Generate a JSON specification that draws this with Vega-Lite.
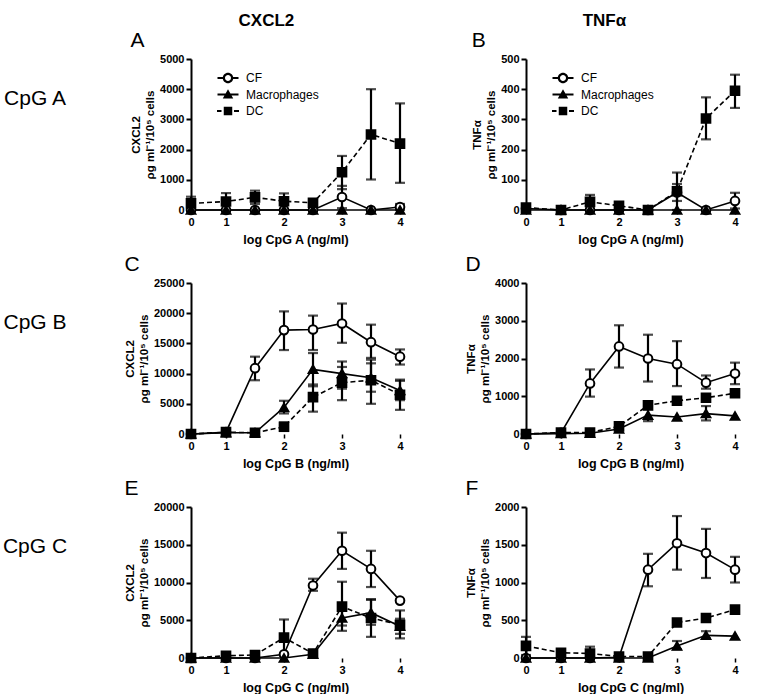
{
  "$schema": "https://vega.github.io/schema/vega-lite/v6.json",
  "padding": {"left": 2, "top": 12, "right": 5, "bottom": 0},
  "background": "white",
  "config": {
    "view": {"stroke": null},
    "font": "Liberation Sans",
    "axis": {"labelFont": "Liberation Sans", "titleFont": "Liberation Sans", "labelColor": "black", "titleColor": "black", "domainColor": "black", "tickColor": "black", "grid": false, "labelOverlap": false},
    "legend": {"labelFont": "Liberation Sans"},
    "title": {"font": "Liberation Sans", "color": "black"}
  },
  "datasets": {
    "axisseg": [{"a": 0, "b": 0.66}, {"a": 0.9, "b": 4}],
    "axiscap": [{"a": 0.66}],
    "obs": [
      {"p":"A","c":"CF","x":0,"v":0},{"p":"A","c":"CF","x":1,"v":0},{"p":"A","c":"CF","x":1.5,"v":0},{"p":"A","c":"CF","x":2,"v":0},{"p":"A","c":"CF","x":2.5,"v":0},{"p":"A","c":"CF","x":3,"v":430,"lo":60,"hi":800},{"p":"A","c":"CF","x":3.5,"v":0},{"p":"A","c":"CF","x":4,"v":100,"lo":0,"hi":200},
      {"p":"A","c":"Macrophages","x":0,"v":0},{"p":"A","c":"Macrophages","x":1,"v":0},{"p":"A","c":"Macrophages","x":1.5,"v":0},{"p":"A","c":"Macrophages","x":2,"v":0},{"p":"A","c":"Macrophages","x":2.5,"v":0},{"p":"A","c":"Macrophages","x":3,"v":0},{"p":"A","c":"Macrophages","x":3.5,"v":0},{"p":"A","c":"Macrophages","x":4,"v":0},
      {"p":"A","c":"DC","x":0,"v":220,"lo":0,"hi":440},{"p":"A","c":"DC","x":1,"v":280,"lo":0,"hi":560},{"p":"A","c":"DC","x":1.5,"v":420,"lo":200,"hi":640},{"p":"A","c":"DC","x":2,"v":290,"lo":30,"hi":550},{"p":"A","c":"DC","x":2.5,"v":240,"lo":180,"hi":300},{"p":"A","c":"DC","x":3,"v":1250,"lo":690,"hi":1790},{"p":"A","c":"DC","x":3.5,"v":2500,"lo":1010,"hi":4000},{"p":"A","c":"DC","x":4,"v":2200,"lo":900,"hi":3530},

      {"p":"B","c":"CF","x":0,"v":5},{"p":"B","c":"CF","x":1,"v":0},{"p":"B","c":"CF","x":1.5,"v":0},{"p":"B","c":"CF","x":2,"v":0},{"p":"B","c":"CF","x":2.5,"v":0},{"p":"B","c":"CF","x":3,"v":58,"lo":30,"hi":86},{"p":"B","c":"CF","x":3.5,"v":0},{"p":"B","c":"CF","x":4,"v":30,"lo":5,"hi":57},
      {"p":"B","c":"Macrophages","x":0,"v":0},{"p":"B","c":"Macrophages","x":1,"v":0},{"p":"B","c":"Macrophages","x":1.5,"v":0},{"p":"B","c":"Macrophages","x":2,"v":0},{"p":"B","c":"Macrophages","x":2.5,"v":0},{"p":"B","c":"Macrophages","x":3,"v":0},{"p":"B","c":"Macrophages","x":3.5,"v":0},{"p":"B","c":"Macrophages","x":4,"v":0},
      {"p":"B","c":"DC","x":0,"v":8},{"p":"B","c":"DC","x":1,"v":0},{"p":"B","c":"DC","x":1.5,"v":27,"lo":5,"hi":50},{"p":"B","c":"DC","x":2,"v":14,"lo":4,"hi":24},{"p":"B","c":"DC","x":2.5,"v":0},{"p":"B","c":"DC","x":3,"v":62,"lo":0,"hi":124},{"p":"B","c":"DC","x":3.5,"v":303,"lo":234,"hi":373},{"p":"B","c":"DC","x":4,"v":395,"lo":338,"hi":448},

      {"p":"C","c":"CF","x":0,"v":0},{"p":"C","c":"CF","x":1,"v":300},{"p":"C","c":"CF","x":1.5,"v":10900,"lo":8900,"hi":12800},{"p":"C","c":"CF","x":2,"v":17200,"lo":13900,"hi":20300},{"p":"C","c":"CF","x":2.5,"v":17300,"lo":13900,"hi":19600},{"p":"C","c":"CF","x":3,"v":18300,"lo":15100,"hi":21600},{"p":"C","c":"CF","x":3.5,"v":15200,"lo":12600,"hi":18100},{"p":"C","c":"CF","x":4,"v":12800,"lo":11500,"hi":14000},
      {"p":"C","c":"Macrophages","x":0,"v":0},{"p":"C","c":"Macrophages","x":1,"v":200},{"p":"C","c":"Macrophages","x":1.5,"v":200},{"p":"C","c":"Macrophages","x":2,"v":4400,"lo":3400,"hi":5500},{"p":"C","c":"Macrophages","x":2.5,"v":10700,"lo":7900,"hi":13400},{"p":"C","c":"Macrophages","x":3,"v":10000,"lo":7500,"hi":12000},{"p":"C","c":"Macrophages","x":3.5,"v":9300,"lo":7000,"hi":11700},{"p":"C","c":"Macrophages","x":4,"v":7200,"lo":5600,"hi":8800},
      {"p":"C","c":"DC","x":0,"v":0},{"p":"C","c":"DC","x":1,"v":300},{"p":"C","c":"DC","x":1.5,"v":200},{"p":"C","c":"DC","x":2,"v":1200,"lo":500,"hi":1900},{"p":"C","c":"DC","x":2.5,"v":6100,"lo":3700,"hi":8200},{"p":"C","c":"DC","x":3,"v":8500,"lo":5600,"hi":11100},{"p":"C","c":"DC","x":3.5,"v":8900,"lo":5000,"hi":12300},{"p":"C","c":"DC","x":4,"v":6500,"lo":4000,"hi":9000},

      {"p":"D","c":"CF","x":0,"v":0},{"p":"D","c":"CF","x":1,"v":30},{"p":"D","c":"CF","x":1.5,"v":1340,"lo":990,"hi":1710},{"p":"D","c":"CF","x":2,"v":2320,"lo":1760,"hi":2880},{"p":"D","c":"CF","x":2.5,"v":2000,"lo":1390,"hi":2630},{"p":"D","c":"CF","x":3,"v":1850,"lo":1270,"hi":2460},{"p":"D","c":"CF","x":3.5,"v":1360,"lo":1200,"hi":1550},{"p":"D","c":"CF","x":4,"v":1600,"lo":1320,"hi":1890},
      {"p":"D","c":"Macrophages","x":0,"v":0},{"p":"D","c":"Macrophages","x":1,"v":10},{"p":"D","c":"Macrophages","x":1.5,"v":20},{"p":"D","c":"Macrophages","x":2,"v":130},{"p":"D","c":"Macrophages","x":2.5,"v":500,"lo":340,"hi":660},{"p":"D","c":"Macrophages","x":3,"v":450},{"p":"D","c":"Macrophages","x":3.5,"v":540,"lo":360,"hi":740},{"p":"D","c":"Macrophages","x":4,"v":480},
      {"p":"D","c":"DC","x":0,"v":0},{"p":"D","c":"DC","x":1,"v":40},{"p":"D","c":"DC","x":1.5,"v":40},{"p":"D","c":"DC","x":2,"v":200},{"p":"D","c":"DC","x":2.5,"v":760,"lo":690,"hi":830},{"p":"D","c":"DC","x":3,"v":880},{"p":"D","c":"DC","x":3.5,"v":960},{"p":"D","c":"DC","x":4,"v":1080},

      {"p":"E","c":"CF","x":0,"v":0},{"p":"E","c":"CF","x":1,"v":0},{"p":"E","c":"CF","x":1.5,"v":0},{"p":"E","c":"CF","x":2,"v":500},{"p":"E","c":"CF","x":2.5,"v":9600,"lo":8900,"hi":10500},{"p":"E","c":"CF","x":3,"v":14200,"lo":11800,"hi":16600},{"p":"E","c":"CF","x":3.5,"v":11800,"lo":9400,"hi":14200},{"p":"E","c":"CF","x":4,"v":7600},
      {"p":"E","c":"Macrophages","x":0,"v":0},{"p":"E","c":"Macrophages","x":1,"v":0},{"p":"E","c":"Macrophages","x":1.5,"v":0},{"p":"E","c":"Macrophages","x":2,"v":0},{"p":"E","c":"Macrophages","x":2.5,"v":500},{"p":"E","c":"Macrophages","x":3,"v":5300,"lo":4300,"hi":6300},{"p":"E","c":"Macrophages","x":3.5,"v":6000,"lo":4400,"hi":7700},{"p":"E","c":"Macrophages","x":4,"v":4200,"lo":3200,"hi":5200},
      {"p":"E","c":"DC","x":0,"v":0},{"p":"E","c":"DC","x":1,"v":300},{"p":"E","c":"DC","x":1.5,"v":400},{"p":"E","c":"DC","x":2,"v":2700,"lo":300,"hi":5100},{"p":"E","c":"DC","x":2.5,"v":600,"lo":300,"hi":900},{"p":"E","c":"DC","x":3,"v":6800,"lo":3600,"hi":10100},{"p":"E","c":"DC","x":3.5,"v":5300,"lo":2800,"hi":7800},{"p":"E","c":"DC","x":4,"v":4400,"lo":2600,"hi":6300},

      {"p":"F","c":"CF","x":0,"v":0},{"p":"F","c":"CF","x":1,"v":0},{"p":"F","c":"CF","x":1.5,"v":0},{"p":"F","c":"CF","x":2,"v":10},{"p":"F","c":"CF","x":2.5,"v":1170,"lo":950,"hi":1380},{"p":"F","c":"CF","x":3,"v":1520,"lo":1170,"hi":1880},{"p":"F","c":"CF","x":3.5,"v":1390,"lo":1060,"hi":1710},{"p":"F","c":"CF","x":4,"v":1170,"lo":1000,"hi":1340},
      {"p":"F","c":"Macrophages","x":0,"v":0},{"p":"F","c":"Macrophages","x":1,"v":0},{"p":"F","c":"Macrophages","x":1.5,"v":0},{"p":"F","c":"Macrophages","x":2,"v":0},{"p":"F","c":"Macrophages","x":2.5,"v":0},{"p":"F","c":"Macrophages","x":3,"v":160,"lo":115,"hi":225},{"p":"F","c":"Macrophages","x":3.5,"v":300,"lo":260,"hi":355},{"p":"F","c":"Macrophages","x":4,"v":290},
      {"p":"F","c":"DC","x":0,"v":160,"lo":40,"hi":280},{"p":"F","c":"DC","x":1,"v":70},{"p":"F","c":"DC","x":1.5,"v":60,"lo":0,"hi":150},{"p":"F","c":"DC","x":2,"v":20},{"p":"F","c":"DC","x":2.5,"v":20},{"p":"F","c":"DC","x":3,"v":470,"lo":430,"hi":510},{"p":"F","c":"DC","x":3.5,"v":530},{"p":"F","c":"DC","x":4,"v":640}
    ]
  },
  "hconcat": [
    {
      "vconcat": [
        {"width": 60, "height": 80, "data": {"values": [{"t": "CpG A"}]}, "mark": {"type": "text", "font": "Liberation Sans", "fontSize": 21, "color": "black"}, "encoding": {"text": {"field": "t"}}},
        {"width": 60, "height": 80, "data": {"values": [{"t": "CpG B"}]}, "mark": {"type": "text", "font": "Liberation Sans", "fontSize": 21, "color": "black"}, "encoding": {"text": {"field": "t"}}},
        {"width": 60, "height": 80, "data": {"values": [{"t": "CpG C"}]}, "mark": {"type": "text", "font": "Liberation Sans", "fontSize": 21, "color": "black"}, "encoding": {"text": {"field": "t"}}}
      ],
      "spacing": 144,
      "bounds": "flush"
    },
    {
      "title": {"text": "CXCL2", "fontSize": 17, "fontWeight": "bold", "anchor": "middle", "frame": "bounds", "offset": 0},
      "spacing": 73,
      "bounds": "flush",
      "resolve": {"scale": {"x": "independent", "y": "independent", "shape": "independent"}},
      "vconcat": [
        {
          "width": 209, "height": 151,
          "title": {"text": "A", "fontSize": 21, "fontWeight": "normal", "anchor": "start", "frame": "bounds", "offset": 2},
          "data": {"name": "obs"},
          "transform": [{"filter": "datum.p === 'A'"}],
          "resolve": {"scale": {"shape": "independent"}},
          "encoding": {
            "x": {"field": "x", "type": "quantitative", "title": "log CpG A (ng/ml)", "scale": {"domain": [0, 1, 4], "range": [0, 35, 209], "nice": false, "zero": false}, "axis": {"values": [0, 1, 2, 3, 4], "format": "d", "domain": false, "tickSize": 4, "tickWidth": 1.5, "labelFontWeight": "bold", "labelFontSize": 11, "labelPadding": 2, "titleFontSize": 12.5, "titleFontWeight": "bold", "titlePadding": 6, "labelFlush": false}},
            "y": {"field": "v", "type": "quantitative", "title": ["CXCL2", "ρg ml⁻¹/10⁵ cells"], "scale": {"domain": [0, 5000], "nice": false}, "axis": {"values": [0, 1000, 2000, 3000, 4000, 5000], "format": "d", "domainWidth": 2, "tickSize": 5, "tickWidth": 2, "labelFontWeight": "bold", "labelFontSize": 11, "labelPadding": 2, "titleFontSize": 11.5, "titleFontWeight": "bold", "titlePadding": 4, "titleLineHeight": 14}}
          },
          "layer": [
            {"data": {"name": "axisseg"}, "transform": [], "mark": {"type": "rule", "strokeWidth": 2, "color": "black"}, "encoding": {"x": {"field": "a", "type": "quantitative", "title": "log CpG A (ng/ml)"}, "x2": {"field": "b"}, "y": {"datum": 0, "type": "quantitative", "title": ["CXCL2", "ρg ml⁻¹/10⁵ cells"]}}},
            {"data": {"name": "axiscap"}, "transform": [], "mark": {"type": "tick", "orient": "vertical", "size": 8, "thickness": 2, "color": "black"}, "encoding": {"x": {"field": "a", "type": "quantitative", "title": "log CpG A (ng/ml)"}, "y": {"datum": 0, "type": "quantitative", "title": ["CXCL2", "ρg ml⁻¹/10⁵ cells"]}}},
            {"transform": [{"filter": "isValid(datum.lo)"}], "mark": {"type": "rule", "strokeWidth": 2.2, "color": "black"}, "encoding": {"y": {"field": "lo", "type": "quantitative", "title": ["CXCL2", "ρg ml⁻¹/10⁵ cells"]}, "y2": {"field": "hi"}}},
            {"transform": [{"filter": "isValid(datum.lo)"}], "mark": {"type": "tick", "orient": "horizontal", "size": 10, "thickness": 2.2, "color": "black"}, "encoding": {"y": {"field": "lo", "type": "quantitative", "title": ["CXCL2", "ρg ml⁻¹/10⁵ cells"]}}},
            {"transform": [{"filter": "isValid(datum.hi)"}], "mark": {"type": "tick", "orient": "horizontal", "size": 10, "thickness": 2.2, "color": "black"}, "encoding": {"y": {"field": "hi", "type": "quantitative", "title": ["CXCL2", "ρg ml⁻¹/10⁵ cells"]}}},
            {"transform": [{"filter": "datum.c !== 'DC'"}], "mark": {"type": "line", "strokeWidth": 1.6, "color": "black"}, "encoding": {"detail": {"field": "c"}}},
            {"transform": [{"filter": "datum.c === 'DC'"}], "mark": {"type": "line", "strokeWidth": 1.6, "color": "black", "strokeDash": [5, 3]}, "encoding": {}},
            {"mark": {"type": "point", "filled": true, "stroke": "black", "strokeWidth": 2, "opacity": 1, "size": 75}, "encoding": {
              "shape": {"field": "c", "type": "nominal", "scale": {"domain": ["CF", "Macrophages", "DC"], "range": ["circle", "triangle-up", "square"]}, "legend": null},
              "fill": {"condition": {"test": "datum.c === 'CF'", "value": "white"}, "value": "black"}
            }},
            {"transform": [{"filter": "false"}], "mark": {"type": "point", "filled": true, "fill": "black", "strokeWidth": 0, "opacity": 1, "size": 100}, "encoding": {
              "shape": {"field": "c", "type": "nominal", "scale": {"domain": ["CF", "Macrophages", "DC"], "range": ["M-2.1,-0.2H-0.95V0.2H-2.1ZM0.95,-0.2H2.1V0.2H0.95ZM1.05,0A1.05,1.05 0 1,1 -1.05,0A1.05,1.05 0 1,1 1.05,0ZM0.6,0A0.6,0.6 0 1,0 -0.6,0A0.6,0.6 0 1,0 0.6,0Z", "M-2.1,-0.2H2.1V0.2H-2.1ZM0,-1.05L1.05,0.8L-1.05,0.8Z", "M-2.2,-0.2H-1.3V0.2H-2.2ZM1.2,-0.2H2.2V0.2H1.2ZM-0.85,-0.85H0.85V0.85H-0.85Z"]},
                "legend": {"title": null, "orient": "none", "legendX": 31, "legendY": 13, "padding": 0, "symbolSize": 100, "symbolStrokeWidth": 0, "symbolFillColor": "black", "labelFontSize": 12, "labelColor": "black", "labelOffset": 12, "rowPadding": 4.5}}
            }}
          ]
        },
        {
          "width": 209, "height": 151,
          "title": {"text": "C", "fontSize": 21, "fontWeight": "normal", "anchor": "start", "frame": "bounds", "offset": 2},
          "data": {"name": "obs"},
          "transform": [{"filter": "datum.p === 'C'"}],
          "encoding": {
            "x": {"field": "x", "type": "quantitative", "title": "log CpG B (ng/ml)", "scale": {"domain": [0, 1, 4], "range": [0, 35, 209], "nice": false, "zero": false}, "axis": {"values": [0, 1, 2, 3, 4], "format": "d", "domain": false, "tickSize": 4, "tickWidth": 1.5, "labelFontWeight": "bold", "labelFontSize": 11, "labelPadding": 2, "titleFontSize": 12.5, "titleFontWeight": "bold", "titlePadding": 6, "labelFlush": false}},
            "y": {"field": "v", "type": "quantitative", "title": ["CXCL2", "ρg ml⁻¹/10⁵ cells"], "scale": {"domain": [0, 25000], "nice": false}, "axis": {"values": [0, 5000, 10000, 15000, 20000, 25000], "format": "d", "domainWidth": 2, "tickSize": 5, "tickWidth": 2, "labelFontWeight": "bold", "labelFontSize": 11, "labelPadding": 2, "titleFontSize": 11.5, "titleFontWeight": "bold", "titlePadding": 4, "titleLineHeight": 14}}
          },
          "layer": [
            {"data": {"name": "axisseg"}, "transform": [], "mark": {"type": "rule", "strokeWidth": 2, "color": "black"}, "encoding": {"x": {"field": "a", "type": "quantitative", "title": "log CpG B (ng/ml)"}, "x2": {"field": "b"}, "y": {"datum": 0, "type": "quantitative", "title": ["CXCL2", "ρg ml⁻¹/10⁵ cells"]}}},
            {"data": {"name": "axiscap"}, "transform": [], "mark": {"type": "tick", "orient": "vertical", "size": 8, "thickness": 2, "color": "black"}, "encoding": {"x": {"field": "a", "type": "quantitative", "title": "log CpG B (ng/ml)"}, "y": {"datum": 0, "type": "quantitative", "title": ["CXCL2", "ρg ml⁻¹/10⁵ cells"]}}},
            {"transform": [{"filter": "isValid(datum.lo)"}], "mark": {"type": "rule", "strokeWidth": 2.2, "color": "black"}, "encoding": {"y": {"field": "lo", "type": "quantitative", "title": ["CXCL2", "ρg ml⁻¹/10⁵ cells"]}, "y2": {"field": "hi"}}},
            {"transform": [{"filter": "isValid(datum.lo)"}], "mark": {"type": "tick", "orient": "horizontal", "size": 10, "thickness": 2.2, "color": "black"}, "encoding": {"y": {"field": "lo", "type": "quantitative", "title": ["CXCL2", "ρg ml⁻¹/10⁵ cells"]}}},
            {"transform": [{"filter": "isValid(datum.hi)"}], "mark": {"type": "tick", "orient": "horizontal", "size": 10, "thickness": 2.2, "color": "black"}, "encoding": {"y": {"field": "hi", "type": "quantitative", "title": ["CXCL2", "ρg ml⁻¹/10⁵ cells"]}}},
            {"transform": [{"filter": "datum.c !== 'DC'"}], "mark": {"type": "line", "strokeWidth": 1.6, "color": "black"}, "encoding": {"detail": {"field": "c"}}},
            {"transform": [{"filter": "datum.c === 'DC'"}], "mark": {"type": "line", "strokeWidth": 1.6, "color": "black", "strokeDash": [5, 3]}, "encoding": {}},
            {"mark": {"type": "point", "filled": true, "stroke": "black", "strokeWidth": 2, "opacity": 1, "size": 75}, "encoding": {
              "shape": {"field": "c", "type": "nominal", "scale": {"domain": ["CF", "Macrophages", "DC"], "range": ["circle", "triangle-up", "square"]}, "legend": null},
              "fill": {"condition": {"test": "datum.c === 'CF'", "value": "white"}, "value": "black"}
            }}
          ]
        },
        {
          "width": 209, "height": 151,
          "title": {"text": "E", "fontSize": 21, "fontWeight": "normal", "anchor": "start", "frame": "bounds", "offset": 2},
          "data": {"name": "obs"},
          "transform": [{"filter": "datum.p === 'E'"}],
          "encoding": {
            "x": {"field": "x", "type": "quantitative", "title": "log CpG C (ng/ml)", "scale": {"domain": [0, 1, 4], "range": [0, 35, 209], "nice": false, "zero": false}, "axis": {"values": [0, 1, 2, 3, 4], "format": "d", "domain": false, "tickSize": 4, "tickWidth": 1.5, "labelFontWeight": "bold", "labelFontSize": 11, "labelPadding": 2, "titleFontSize": 12.5, "titleFontWeight": "bold", "titlePadding": 6, "labelFlush": false}},
            "y": {"field": "v", "type": "quantitative", "title": ["CXCL2", "ρg ml⁻¹/10⁵ cells"], "scale": {"domain": [0, 20000], "nice": false}, "axis": {"values": [0, 5000, 10000, 15000, 20000], "format": "d", "domainWidth": 2, "tickSize": 5, "tickWidth": 2, "labelFontWeight": "bold", "labelFontSize": 11, "labelPadding": 2, "titleFontSize": 11.5, "titleFontWeight": "bold", "titlePadding": 4, "titleLineHeight": 14}}
          },
          "layer": [
            {"data": {"name": "axisseg"}, "transform": [], "mark": {"type": "rule", "strokeWidth": 2, "color": "black"}, "encoding": {"x": {"field": "a", "type": "quantitative", "title": "log CpG C (ng/ml)"}, "x2": {"field": "b"}, "y": {"datum": 0, "type": "quantitative", "title": ["CXCL2", "ρg ml⁻¹/10⁵ cells"]}}},
            {"data": {"name": "axiscap"}, "transform": [], "mark": {"type": "tick", "orient": "vertical", "size": 8, "thickness": 2, "color": "black"}, "encoding": {"x": {"field": "a", "type": "quantitative", "title": "log CpG C (ng/ml)"}, "y": {"datum": 0, "type": "quantitative", "title": ["CXCL2", "ρg ml⁻¹/10⁵ cells"]}}},
            {"transform": [{"filter": "isValid(datum.lo)"}], "mark": {"type": "rule", "strokeWidth": 2.2, "color": "black"}, "encoding": {"y": {"field": "lo", "type": "quantitative", "title": ["CXCL2", "ρg ml⁻¹/10⁵ cells"]}, "y2": {"field": "hi"}}},
            {"transform": [{"filter": "isValid(datum.lo)"}], "mark": {"type": "tick", "orient": "horizontal", "size": 10, "thickness": 2.2, "color": "black"}, "encoding": {"y": {"field": "lo", "type": "quantitative", "title": ["CXCL2", "ρg ml⁻¹/10⁵ cells"]}}},
            {"transform": [{"filter": "isValid(datum.hi)"}], "mark": {"type": "tick", "orient": "horizontal", "size": 10, "thickness": 2.2, "color": "black"}, "encoding": {"y": {"field": "hi", "type": "quantitative", "title": ["CXCL2", "ρg ml⁻¹/10⁵ cells"]}}},
            {"transform": [{"filter": "datum.c !== 'DC'"}], "mark": {"type": "line", "strokeWidth": 1.6, "color": "black"}, "encoding": {"detail": {"field": "c"}}},
            {"transform": [{"filter": "datum.c === 'DC'"}], "mark": {"type": "line", "strokeWidth": 1.6, "color": "black", "strokeDash": [5, 3]}, "encoding": {}},
            {"mark": {"type": "point", "filled": true, "stroke": "black", "strokeWidth": 2, "opacity": 1, "size": 75}, "encoding": {
              "shape": {"field": "c", "type": "nominal", "scale": {"domain": ["CF", "Macrophages", "DC"], "range": ["circle", "triangle-up", "square"]}, "legend": null},
              "fill": {"condition": {"test": "datum.c === 'CF'", "value": "white"}, "value": "black"}
            }}
          ]
        }
      ]
    },
    {
      "title": {"text": "TNFα", "fontSize": 17, "fontWeight": "bold", "anchor": "middle", "frame": "bounds", "offset": 0},
      "spacing": 73,
      "bounds": "flush",
      "resolve": {"scale": {"x": "independent", "y": "independent", "shape": "independent"}},
      "vconcat": [
        {
          "width": 209, "height": 151,
          "title": {"text": "B", "fontSize": 21, "fontWeight": "normal", "anchor": "start", "frame": "bounds", "offset": 2},
          "data": {"name": "obs"},
          "transform": [{"filter": "datum.p === 'B'"}],
          "resolve": {"scale": {"shape": "independent"}},
          "encoding": {
            "x": {"field": "x", "type": "quantitative", "title": "log CpG A (ng/ml)", "scale": {"domain": [0, 1, 4], "range": [0, 35, 209], "nice": false, "zero": false}, "axis": {"values": [0, 1, 2, 3, 4], "format": "d", "domain": false, "tickSize": 4, "tickWidth": 1.5, "labelFontWeight": "bold", "labelFontSize": 11, "labelPadding": 2, "titleFontSize": 12.5, "titleFontWeight": "bold", "titlePadding": 6, "labelFlush": false}},
            "y": {"field": "v", "type": "quantitative", "title": ["TNFα", "ρg ml⁻¹/10⁵ cells"], "scale": {"domain": [0, 500], "nice": false}, "axis": {"values": [0, 100, 200, 300, 400, 500], "format": "d", "domainWidth": 2, "tickSize": 5, "tickWidth": 2, "labelFontWeight": "bold", "labelFontSize": 11, "labelPadding": 2, "titleFontSize": 11.5, "titleFontWeight": "bold", "titlePadding": 4, "titleLineHeight": 14}}
          },
          "layer": [
            {"data": {"name": "axisseg"}, "transform": [], "mark": {"type": "rule", "strokeWidth": 2, "color": "black"}, "encoding": {"x": {"field": "a", "type": "quantitative", "title": "log CpG A (ng/ml)"}, "x2": {"field": "b"}, "y": {"datum": 0, "type": "quantitative", "title": ["TNFα", "ρg ml⁻¹/10⁵ cells"]}}},
            {"data": {"name": "axiscap"}, "transform": [], "mark": {"type": "tick", "orient": "vertical", "size": 8, "thickness": 2, "color": "black"}, "encoding": {"x": {"field": "a", "type": "quantitative", "title": "log CpG A (ng/ml)"}, "y": {"datum": 0, "type": "quantitative", "title": ["TNFα", "ρg ml⁻¹/10⁵ cells"]}}},
            {"transform": [{"filter": "isValid(datum.lo)"}], "mark": {"type": "rule", "strokeWidth": 2.2, "color": "black"}, "encoding": {"y": {"field": "lo", "type": "quantitative", "title": ["TNFα", "ρg ml⁻¹/10⁵ cells"]}, "y2": {"field": "hi"}}},
            {"transform": [{"filter": "isValid(datum.lo)"}], "mark": {"type": "tick", "orient": "horizontal", "size": 10, "thickness": 2.2, "color": "black"}, "encoding": {"y": {"field": "lo", "type": "quantitative", "title": ["TNFα", "ρg ml⁻¹/10⁵ cells"]}}},
            {"transform": [{"filter": "isValid(datum.hi)"}], "mark": {"type": "tick", "orient": "horizontal", "size": 10, "thickness": 2.2, "color": "black"}, "encoding": {"y": {"field": "hi", "type": "quantitative", "title": ["TNFα", "ρg ml⁻¹/10⁵ cells"]}}},
            {"transform": [{"filter": "datum.c !== 'DC'"}], "mark": {"type": "line", "strokeWidth": 1.6, "color": "black"}, "encoding": {"detail": {"field": "c"}}},
            {"transform": [{"filter": "datum.c === 'DC'"}], "mark": {"type": "line", "strokeWidth": 1.6, "color": "black", "strokeDash": [5, 3]}, "encoding": {}},
            {"mark": {"type": "point", "filled": true, "stroke": "black", "strokeWidth": 2, "opacity": 1, "size": 75}, "encoding": {
              "shape": {"field": "c", "type": "nominal", "scale": {"domain": ["CF", "Macrophages", "DC"], "range": ["circle", "triangle-up", "square"]}, "legend": null},
              "fill": {"condition": {"test": "datum.c === 'CF'", "value": "white"}, "value": "black"}
            }},
            {"transform": [{"filter": "false"}], "mark": {"type": "point", "filled": true, "fill": "black", "strokeWidth": 0, "opacity": 1, "size": 100}, "encoding": {
              "shape": {"field": "c", "type": "nominal", "scale": {"domain": ["CF", "Macrophages", "DC"], "range": ["M-2.1,-0.2H-0.95V0.2H-2.1ZM0.95,-0.2H2.1V0.2H0.95ZM1.05,0A1.05,1.05 0 1,1 -1.05,0A1.05,1.05 0 1,1 1.05,0ZM0.6,0A0.6,0.6 0 1,0 -0.6,0A0.6,0.6 0 1,0 0.6,0Z", "M-2.1,-0.2H2.1V0.2H-2.1ZM0,-1.05L1.05,0.8L-1.05,0.8Z", "M-2.2,-0.2H-1.3V0.2H-2.2ZM1.2,-0.2H2.2V0.2H1.2ZM-0.85,-0.85H0.85V0.85H-0.85Z"]},
                "legend": {"title": null, "orient": "none", "legendX": 31, "legendY": 13, "padding": 0, "symbolSize": 100, "symbolStrokeWidth": 0, "symbolFillColor": "black", "labelFontSize": 12, "labelColor": "black", "labelOffset": 12, "rowPadding": 4.5}}
            }}
          ]
        },
        {
          "width": 209, "height": 151,
          "title": {"text": "D", "fontSize": 21, "fontWeight": "normal", "anchor": "start", "frame": "bounds", "offset": 2},
          "data": {"name": "obs"},
          "transform": [{"filter": "datum.p === 'D'"}],
          "encoding": {
            "x": {"field": "x", "type": "quantitative", "title": "log CpG B (ng/ml)", "scale": {"domain": [0, 1, 4], "range": [0, 35, 209], "nice": false, "zero": false}, "axis": {"values": [0, 1, 2, 3, 4], "format": "d", "domain": false, "tickSize": 4, "tickWidth": 1.5, "labelFontWeight": "bold", "labelFontSize": 11, "labelPadding": 2, "titleFontSize": 12.5, "titleFontWeight": "bold", "titlePadding": 6, "labelFlush": false}},
            "y": {"field": "v", "type": "quantitative", "title": ["TNFα", "ρg ml⁻¹/10⁵ cells"], "scale": {"domain": [0, 4000], "nice": false}, "axis": {"values": [0, 1000, 2000, 3000, 4000], "format": "d", "domainWidth": 2, "tickSize": 5, "tickWidth": 2, "labelFontWeight": "bold", "labelFontSize": 11, "labelPadding": 2, "titleFontSize": 11.5, "titleFontWeight": "bold", "titlePadding": 4, "titleLineHeight": 14}}
          },
          "layer": [
            {"data": {"name": "axisseg"}, "transform": [], "mark": {"type": "rule", "strokeWidth": 2, "color": "black"}, "encoding": {"x": {"field": "a", "type": "quantitative", "title": "log CpG B (ng/ml)"}, "x2": {"field": "b"}, "y": {"datum": 0, "type": "quantitative", "title": ["TNFα", "ρg ml⁻¹/10⁵ cells"]}}},
            {"data": {"name": "axiscap"}, "transform": [], "mark": {"type": "tick", "orient": "vertical", "size": 8, "thickness": 2, "color": "black"}, "encoding": {"x": {"field": "a", "type": "quantitative", "title": "log CpG B (ng/ml)"}, "y": {"datum": 0, "type": "quantitative", "title": ["TNFα", "ρg ml⁻¹/10⁵ cells"]}}},
            {"transform": [{"filter": "isValid(datum.lo)"}], "mark": {"type": "rule", "strokeWidth": 2.2, "color": "black"}, "encoding": {"y": {"field": "lo", "type": "quantitative", "title": ["TNFα", "ρg ml⁻¹/10⁵ cells"]}, "y2": {"field": "hi"}}},
            {"transform": [{"filter": "isValid(datum.lo)"}], "mark": {"type": "tick", "orient": "horizontal", "size": 10, "thickness": 2.2, "color": "black"}, "encoding": {"y": {"field": "lo", "type": "quantitative", "title": ["TNFα", "ρg ml⁻¹/10⁵ cells"]}}},
            {"transform": [{"filter": "isValid(datum.hi)"}], "mark": {"type": "tick", "orient": "horizontal", "size": 10, "thickness": 2.2, "color": "black"}, "encoding": {"y": {"field": "hi", "type": "quantitative", "title": ["TNFα", "ρg ml⁻¹/10⁵ cells"]}}},
            {"transform": [{"filter": "datum.c !== 'DC'"}], "mark": {"type": "line", "strokeWidth": 1.6, "color": "black"}, "encoding": {"detail": {"field": "c"}}},
            {"transform": [{"filter": "datum.c === 'DC'"}], "mark": {"type": "line", "strokeWidth": 1.6, "color": "black", "strokeDash": [5, 3]}, "encoding": {}},
            {"mark": {"type": "point", "filled": true, "stroke": "black", "strokeWidth": 2, "opacity": 1, "size": 75}, "encoding": {
              "shape": {"field": "c", "type": "nominal", "scale": {"domain": ["CF", "Macrophages", "DC"], "range": ["circle", "triangle-up", "square"]}, "legend": null},
              "fill": {"condition": {"test": "datum.c === 'CF'", "value": "white"}, "value": "black"}
            }}
          ]
        },
        {
          "width": 209, "height": 151,
          "title": {"text": "F", "fontSize": 21, "fontWeight": "normal", "anchor": "start", "frame": "bounds", "offset": 2},
          "data": {"name": "obs"},
          "transform": [{"filter": "datum.p === 'F'"}],
          "encoding": {
            "x": {"field": "x", "type": "quantitative", "title": "log CpG C (ng/ml)", "scale": {"domain": [0, 1, 4], "range": [0, 35, 209], "nice": false, "zero": false}, "axis": {"values": [0, 1, 2, 3, 4], "format": "d", "domain": false, "tickSize": 4, "tickWidth": 1.5, "labelFontWeight": "bold", "labelFontSize": 11, "labelPadding": 2, "titleFontSize": 12.5, "titleFontWeight": "bold", "titlePadding": 6, "labelFlush": false}},
            "y": {"field": "v", "type": "quantitative", "title": ["TNFα", "ρg ml⁻¹/10⁵ cells"], "scale": {"domain": [0, 2000], "nice": false}, "axis": {"values": [0, 500, 1000, 1500, 2000], "format": "d", "domainWidth": 2, "tickSize": 5, "tickWidth": 2, "labelFontWeight": "bold", "labelFontSize": 11, "labelPadding": 2, "titleFontSize": 11.5, "titleFontWeight": "bold", "titlePadding": 4, "titleLineHeight": 14}}
          },
          "layer": [
            {"data": {"name": "axisseg"}, "transform": [], "mark": {"type": "rule", "strokeWidth": 2, "color": "black"}, "encoding": {"x": {"field": "a", "type": "quantitative", "title": "log CpG C (ng/ml)"}, "x2": {"field": "b"}, "y": {"datum": 0, "type": "quantitative", "title": ["TNFα", "ρg ml⁻¹/10⁵ cells"]}}},
            {"data": {"name": "axiscap"}, "transform": [], "mark": {"type": "tick", "orient": "vertical", "size": 8, "thickness": 2, "color": "black"}, "encoding": {"x": {"field": "a", "type": "quantitative", "title": "log CpG C (ng/ml)"}, "y": {"datum": 0, "type": "quantitative", "title": ["TNFα", "ρg ml⁻¹/10⁵ cells"]}}},
            {"transform": [{"filter": "isValid(datum.lo)"}], "mark": {"type": "rule", "strokeWidth": 2.2, "color": "black"}, "encoding": {"y": {"field": "lo", "type": "quantitative", "title": ["TNFα", "ρg ml⁻¹/10⁵ cells"]}, "y2": {"field": "hi"}}},
            {"transform": [{"filter": "isValid(datum.lo)"}], "mark": {"type": "tick", "orient": "horizontal", "size": 10, "thickness": 2.2, "color": "black"}, "encoding": {"y": {"field": "lo", "type": "quantitative", "title": ["TNFα", "ρg ml⁻¹/10⁵ cells"]}}},
            {"transform": [{"filter": "isValid(datum.hi)"}], "mark": {"type": "tick", "orient": "horizontal", "size": 10, "thickness": 2.2, "color": "black"}, "encoding": {"y": {"field": "hi", "type": "quantitative", "title": ["TNFα", "ρg ml⁻¹/10⁵ cells"]}}},
            {"transform": [{"filter": "datum.c !== 'DC'"}], "mark": {"type": "line", "strokeWidth": 1.6, "color": "black"}, "encoding": {"detail": {"field": "c"}}},
            {"transform": [{"filter": "datum.c === 'DC'"}], "mark": {"type": "line", "strokeWidth": 1.6, "color": "black", "strokeDash": [5, 3]}, "encoding": {}},
            {"mark": {"type": "point", "filled": true, "stroke": "black", "strokeWidth": 2, "opacity": 1, "size": 75}, "encoding": {
              "shape": {"field": "c", "type": "nominal", "scale": {"domain": ["CF", "Macrophages", "DC"], "range": ["circle", "triangle-up", "square"]}, "legend": null},
              "fill": {"condition": {"test": "datum.c === 'CF'", "value": "white"}, "value": "black"}
            }}
          ]
        }
      ]
    }
  ],
  "spacing": 56,
  "bounds": "full",
  "resolve": {"scale": {"x": "independent", "y": "independent", "shape": "independent"}}
}
